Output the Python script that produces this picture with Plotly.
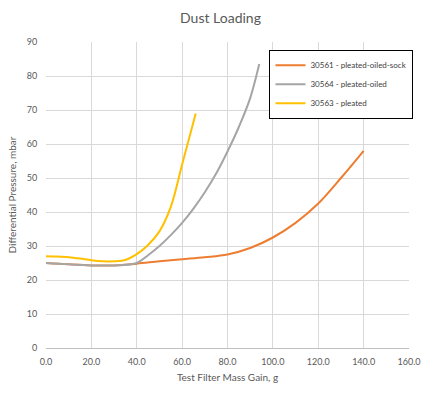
import plotly.graph_objects as go

orange_x = [0, 10, 20, 30, 40, 50, 60, 70, 80, 90, 100, 110, 120, 130, 140]
orange_y = [25, 24.6, 24.3, 24.3, 24.8, 25.5, 26.1, 26.7, 27.5, 29.4, 32.5, 36.8, 42.5, 50, 58]
gray_x = [0, 10, 20, 30, 40, 45, 50, 55, 60, 65, 70, 75, 80, 85, 90, 94]
gray_y = [25, 24.6, 24.3, 24.3, 25, 27.3, 30, 33.2, 36.8, 41, 45.8, 51.3, 57.8, 65, 73.5, 83.5]
yellow_x = [0, 5, 10, 15, 20, 25, 30, 35, 40, 45, 50, 55, 60, 63, 66]
yellow_y = [27, 26.9, 26.7, 26.3, 25.8, 25.5, 25.5, 25.9, 27.6, 30.3, 34.3, 41.5, 54, 61.5, 69]

names = ["30561 - pleated-oiled-sock", "30564 - pleated-oiled", "30563 - pleated"]
colors = ["#ED7D31", "#A5A5A5", "#FFC000"]

fig = go.Figure()
for xs, ys, n, c in [(orange_x, orange_y, names[0], colors[0]),
                     (gray_x, gray_y, names[1], colors[1]),
                     (yellow_x, yellow_y, names[2], colors[2])]:
    fig.add_trace(go.Scatter(x=xs, y=ys, name=n, mode="lines",
                             line=dict(color=c, width=2, shape="spline", smoothing=1)))

font = "Lato, Open Sans, sans-serif"
fig.update_layout(
    width=441, height=395,
    margin=dict(l=46, r=32, t=42, b=47),
    paper_bgcolor="white", plot_bgcolor="white",
    font=dict(family=font, size=9, color="#595959"),
    title=dict(text="Dust Loading", x=0.5, xanchor="center", y=0.955, yanchor="middle",
               font=dict(size=14, color="#595959", family=font)),
    showlegend=True,
    legend=dict(x=0.814, xanchor="center", y=0.975, yanchor="top",
                bordercolor="#000000", borderwidth=1, bgcolor="white",
                font=dict(size=8, color="#404040", family=font),
                tracegroupgap=0, itemwidth=30),
    xaxis=dict(range=[0, 160], tickvals=list(range(0, 161, 20)), tickformat=".1f",
               showgrid=True, gridcolor="#D9D9D9", gridwidth=1,
               showline=True, linecolor="#BFBFBF", zeroline=False,
               title=dict(text="Test Filter Mass Gain, g", font=dict(size=10, color="#595959"), standoff=8),
               ticks="outside", ticklen=5, tickcolor="rgba(0,0,0,0)",
               tickfont=dict(size=9, color="#595959")),
    yaxis=dict(range=[0, 90], tickvals=list(range(0, 91, 10)),
               showgrid=True, gridcolor="#D9D9D9", gridwidth=1,
               showline=False, zeroline=False,
               title=dict(text="Differential Pressure, mbar", font=dict(size=10, color="#595959"), standoff=8),
               ticks="outside", ticklen=6, tickcolor="rgba(0,0,0,0)",
               tickfont=dict(size=9, color="#595959")),
)
fig.write_html("out.html")
